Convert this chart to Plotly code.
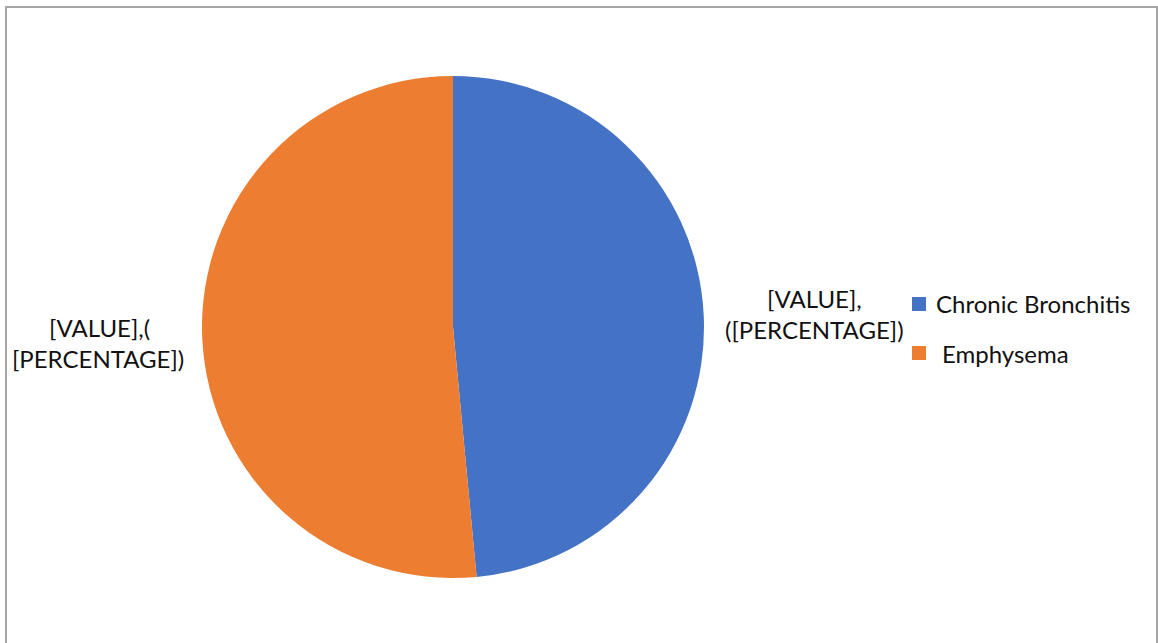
import plotly.graph_objects as go

categories = ["Chronic Bronchitis", "Emphysema"]
values = [48.5, 51.5]
colors = ["#4472C4", "#ED7D31"]
label_lines = [["[VALUE],", "([PERCENTAGE])"], ["[VALUE],(", "[PERCENTAGE])"]]

W, H = 1158, 643
FONT = "Lato"

def px(x):
    return x / W

def py(y):
    return 1 - y / H

fig = go.Figure()
fig.add_trace(go.Pie(
    labels=categories, values=values, sort=False, direction="clockwise", rotation=0,
    marker=dict(colors=colors, line=dict(color="white", width=0)),
    textinfo="none", hoverinfo="label+value+percent", showlegend=False,
    domain=dict(x=[px(202), px(704)], y=[py(578), py(76)]),
))

annotations = []
# data labels
label_pos = [[(814, 298), (814, 329)], [(99, 327), (98, 358)]]
for lines, pos in zip(label_lines, label_pos):
    for t, (x, y) in zip(lines, pos):
        annotations.append(dict(x=px(x), y=py(y), xref="paper", yref="paper", text=t,
                                showarrow=False, xanchor="center", yanchor="middle",
                                font=dict(family=FONT, size=24, color="#111111")))

shapes = []
# legend
leg_y = [304, 353]
leg_tx = [934, 940]
for c, name, y, tx in zip(colors, categories, leg_y, leg_tx):
    shapes.append(dict(type="rect", xref="paper", yref="paper", x0=px(912), x1=px(926),
                       y0=py(y + 7), y1=py(y - 7), fillcolor=c, line=dict(width=0)))
    annotations.append(dict(x=px(tx), y=py(y), xref="paper", yref="paper", text=name,
                            showarrow=False, xanchor="left", yanchor="middle",
                            font=dict(family=FONT, size=24, color="#111111")))

# chart border
shapes.append(dict(type="rect", xref="paper", yref="paper", x0=px(6), x1=px(1157),
                   y0=py(660), y1=py(7), line=dict(color="#A6A6A6", width=2),
                   fillcolor="rgba(0,0,0,0)"))

fig.update_layout(
    width=W, height=H, margin=dict(l=0, r=0, t=0, b=0),
    paper_bgcolor="white", plot_bgcolor="white",
    annotations=annotations, shapes=shapes, showlegend=False,
)
fig.write_html("out.html")
